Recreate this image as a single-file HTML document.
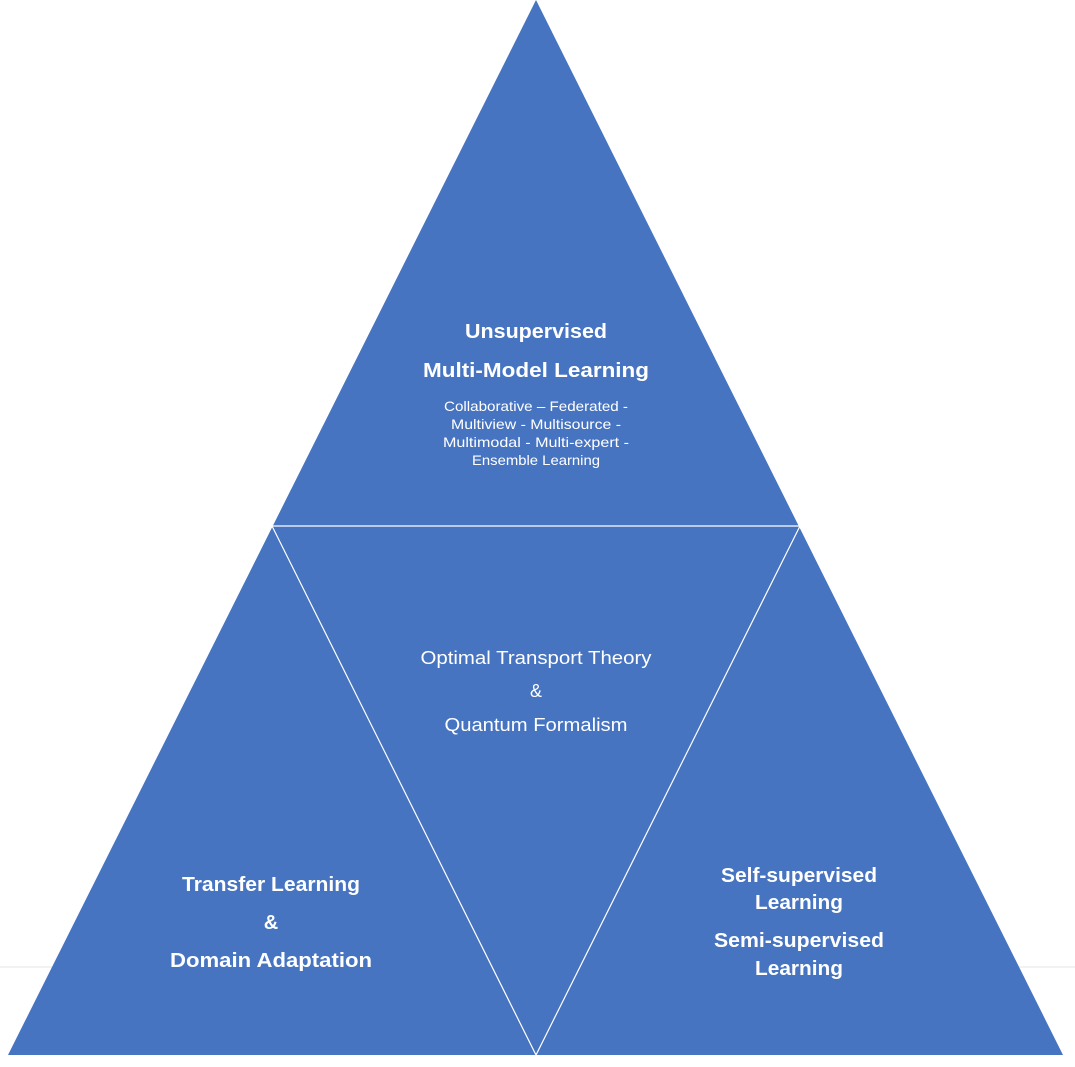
<!DOCTYPE html>
<html><head><meta charset="utf-8"><style>
html,body{margin:0;padding:0;background:#fff;}
svg{display:block;}
text{font-family:"Liberation Sans",sans-serif;fill:#fff;text-anchor:middle;}
.b{font-weight:bold;font-size:20px;}
.s{font-size:14px;}
.m{font-size:18px;}
</style></head><body>
<svg width="1075" height="1067" viewBox="0 0 1075 1067">
<line x1="0" y1="967" x2="1075" y2="967" stroke="#e6e6e6" stroke-width="1"/>
<polygon points="536,0 1063,1055 8,1055" fill="#4674C1"/>
<polyline points="272,526 800,526 536,1055 272,526" fill="none" stroke="#fff" stroke-width="1.2"/>
<text class="b" x="536" y="338" textLength="142" lengthAdjust="spacingAndGlyphs">Unsupervised</text>
<text class="b" x="536" y="377" textLength="226" lengthAdjust="spacingAndGlyphs">Multi-Model Learning</text>
<text class="s" x="536" y="411" textLength="184" lengthAdjust="spacingAndGlyphs">Collaborative – Federated -</text>
<text class="s" x="536" y="429" textLength="170" lengthAdjust="spacingAndGlyphs">Multiview - Multisource -</text>
<text class="s" x="536" y="447" textLength="186" lengthAdjust="spacingAndGlyphs">Multimodal - Multi-expert -</text>
<text class="s" x="536" y="465" textLength="128" lengthAdjust="spacingAndGlyphs">Ensemble Learning</text>
<text class="m" x="536" y="664" textLength="231" lengthAdjust="spacingAndGlyphs">Optimal Transport Theory</text>
<text class="m" x="536" y="697">&amp;</text>
<text class="m" x="536" y="731" textLength="183" lengthAdjust="spacingAndGlyphs">Quantum Formalism</text>
<text class="b" x="271" y="891" textLength="178" lengthAdjust="spacingAndGlyphs">Transfer Learning</text>
<text class="b" x="271" y="929">&amp;</text>
<text class="b" x="271" y="967" textLength="202" lengthAdjust="spacingAndGlyphs">Domain Adaptation</text>
<text class="b" x="799" y="882" textLength="156" lengthAdjust="spacingAndGlyphs">Self-supervised</text>
<text class="b" x="799" y="909" textLength="88" lengthAdjust="spacingAndGlyphs">Learning</text>
<text class="b" x="799" y="947" textLength="170" lengthAdjust="spacingAndGlyphs">Semi-supervised</text>
<text class="b" x="799" y="975" textLength="88" lengthAdjust="spacingAndGlyphs">Learning</text>
</svg>
</body></html>
